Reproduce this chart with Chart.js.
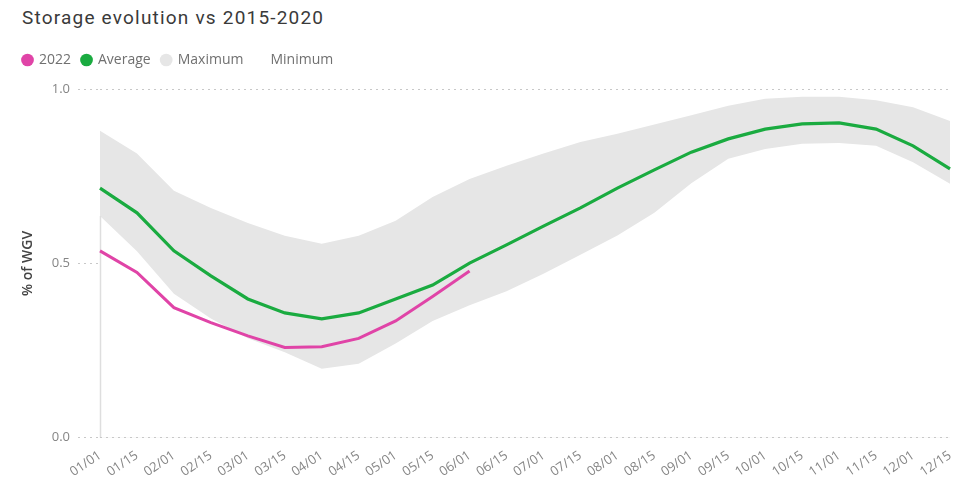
<!DOCTYPE html>
<html>
<head>
<meta charset="utf-8">
<script src="https://cdn.jsdelivr.net/npm/chart.js@4/dist/chart.umd.min.js"></script>
<style>
  html, body { margin: 0; padding: 0; background: #ffffff; }
  #wrap { position: relative; width: 965px; height: 482px; overflow: hidden; }
  #title { position: absolute; left: 22px; top: 6px; font-family: Roboto, "Open Sans", sans-serif; font-size: 19px; color: #3a3a3a; letter-spacing: 1.2px; white-space: nowrap; }
  canvas { position: absolute; left: 0; top: 0; }
</style>
</head>
<body>
<div id="wrap">
  <div id="title">Storage evolution vs 2015-2020</div>
  <canvas id="c" width="965" height="482"></canvas>
</div>
<script>
// Category labels (x axis)
const categories = ['01/01','01/15','02/01','02/15','03/01','03/15','04/01','04/15','05/01','05/15','06/01','06/15',
                    '07/01','07/15','08/01','08/15','09/01','09/15','10/01','10/15','11/01','11/15','12/01','12/15'];
// Series values (% of WGV, as fraction)
const values2022 = [0.536,0.474,0.373,0.330,0.292,0.259,0.261,0.285,0.335,0.405,0.478];
const valuesAverage = [0.716,0.645,0.536,0.464,0.398,0.358,0.341,0.358,0.398,0.438,0.501,0.553,
                       0.607,0.659,0.716,0.768,0.819,0.857,0.885,0.900,0.903,0.885,0.837,0.771];
const valuesMaximum = [0.880,0.815,0.708,0.659,0.616,0.579,0.556,0.579,0.622,0.690,0.742,0.780,
                       0.815,0.848,0.872,0.898,0.925,0.952,0.972,0.978,0.978,0.968,0.948,0.908];
const valuesMinimum = [0.636,0.535,0.413,0.342,0.285,0.245,0.198,0.212,0.270,0.335,0.380,0.420,
                       0.470,0.525,0.580,0.645,0.730,0.800,0.828,0.843,0.845,0.837,0.790,0.728];
// Y tick values
const yTicks = [0.0, 0.5, 1.0];

const minEdge = {
  id: 'minEdge',
  afterDatasetDraw(chart, args) {
    if (args.index !== 3) return;
    const ctx = chart.ctx;
    const x = Math.round(chart.scales.x.getPixelForValue(0)) + 0.5;
    const y1 = chart.scales.y.getPixelForValue(valuesMinimum[0]);
    const y2 = chart.scales.y.getPixelForValue(0);
    ctx.save();
    ctx.strokeStyle = '#dedede';
    ctx.lineWidth = 1.5;
    ctx.beginPath();
    ctx.moveTo(x, y1);
    ctx.lineTo(x, y2);
    ctx.stroke();
    ctx.restore();
  }
};

const legendGap = {
  id: 'legendGap',
  beforeInit(chart) {
    const origFit = chart.legend.fit;
    chart.legend.fit = function () {
      origFit.bind(chart.legend)();
      this.height += 12;
    };
  }
};

new Chart(document.getElementById('c'), {
  type: 'line',
  data: {
    labels: categories,
    datasets: [
      { label: '2022', data: values2022, borderColor: '#E044A7', backgroundColor: '#E044A7',
        borderWidth: 3, pointRadius: 0, fill: false, tension: 0, order: 1 },
      { label: 'Average', data: valuesAverage, borderColor: '#1AAB40', backgroundColor: '#1AAB40',
        borderWidth: 3.2, pointRadius: 0, fill: false, tension: 0, order: 2 },
      { label: 'Maximum', data: valuesMaximum, borderColor: '#e6e6e6', backgroundColor: '#e6e6e6',
        borderWidth: 0, pointRadius: 0, fill: 'origin', tension: 0, order: 4 },
      { label: 'Minimum', data: valuesMinimum, borderColor: '#ffffff', backgroundColor: '#ffffff',
        borderWidth: 0, pointRadius: 0, fill: 'origin', tension: 0, order: 3 }
    ]
  },
  options: {
    responsive: false,
    animation: false,
    events: [],
    layout: { padding: { left: 12, right: 15, top: 42, bottom: 0 } },
    plugins: {
      title: { display: false },
      tooltip: { enabled: false },
      legend: {
        display: true,
        position: 'top',
        align: 'start',
        labels: {
          usePointStyle: true,
          pointStyle: 'circle',
          boxWidth: 9,
          boxHeight: 9,
          padding: 11,
          color: '#707070',
          font: { family: '"Open Sans", sans-serif', size: 14 },
          sort: (a, b) => a.datasetIndex - b.datasetIndex,
          generateLabels(chart) {
            return Chart.defaults.plugins.legend.labels.generateLabels(chart).map(l => {
              l.lineWidth = 0;
              return l;
            });
          }
        }
      }
    },
    scales: {
      x: {
        type: 'category',
        offset: false,
        grid: { display: false },
        border: { display: false },
        ticks: {
          autoSkip: false,
          maxRotation: 34,
          minRotation: 34,
          color: '#858585',
          padding: 2,
          font: { family: '"Open Sans", sans-serif', size: 13 }
        }
      },
      y: {
        min: 0,
        max: 1,
        afterBuildTicks(scale) { scale.ticks = yTicks.map(v => ({ value: v })); },
        afterFit(scale) { scale.width = 88; },
        ticks: {
          color: '#858585',
          padding: 8,
          font: { family: '"Open Sans", sans-serif', size: 13 },
          callback: v => Number(v).toFixed(1)
        },
        grid: {
          z: 1,
          color: c => (c.tick && c.tick.value === 0.5) ? 'rgba(0,0,0,0)' : '#c8c8c8',
          lineWidth: 1,
          drawTicks: true,
          tickLength: 22,
          tickBorderDash: [2, 4],
          tickColor: '#c8c8c8'
        },
        border: { display: false, dash: [2, 4] },
        title: {
          display: true,
          text: '% of WGV',
          color: '#444444',
          font: { family: '"Open Sans", sans-serif', size: 14, weight: '600' },
          padding: { top: 8, bottom: 0 }
        }
      }
    }
  },
  plugins: [minEdge, legendGap]
});
</script>
</body>
</html>
